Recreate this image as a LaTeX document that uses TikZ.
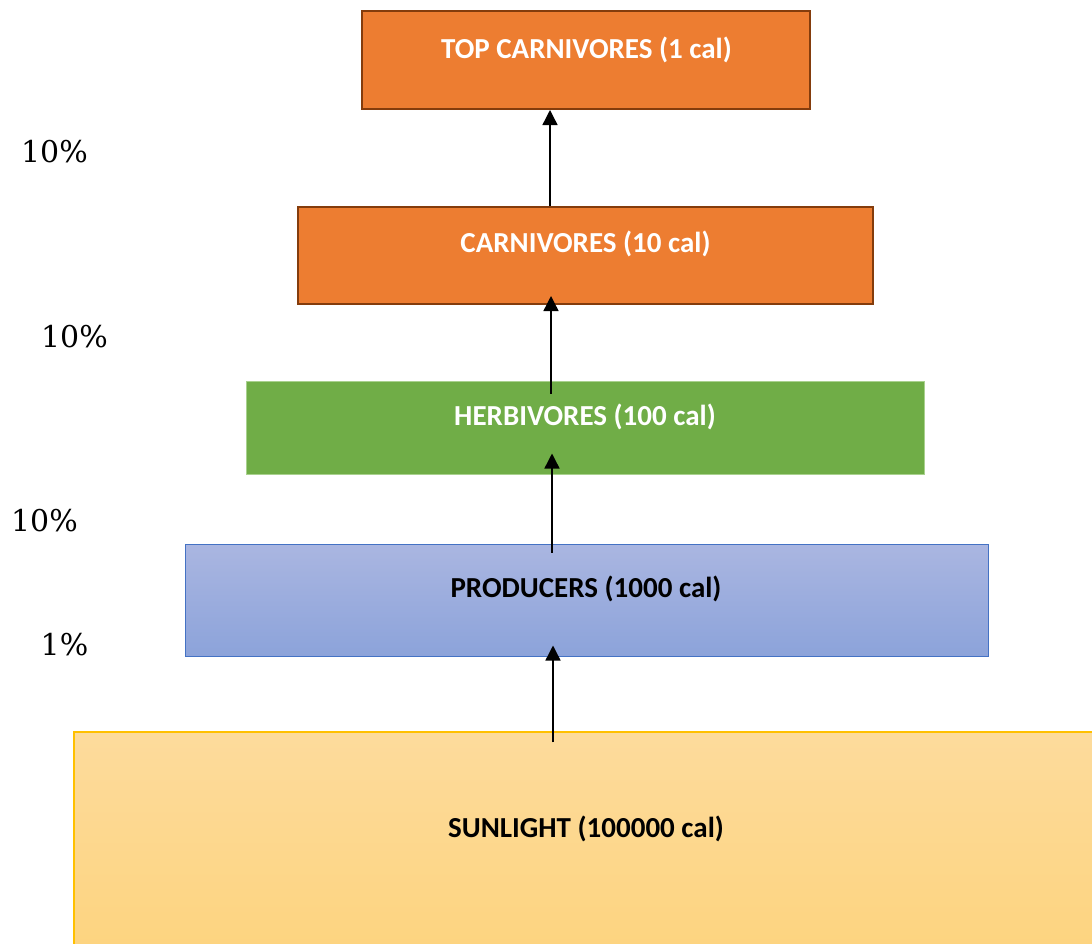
\documentclass[tikz,border=0pt]{standalone}
\usepackage{fontspec}
\setmainfont{Carlito}
\newfontfamily\pctfont{DejaVu Serif}
\usetikzlibrary{arrows.meta,calc}
\definecolor{orangefill}{HTML}{ED7D31}
\definecolor{orangeedge}{HTML}{843C0C}
\definecolor{greenfill}{HTML}{70AD47}
\definecolor{greenedge}{HTML}{A9D18E}
\definecolor{bluetop}{HTML}{AAB6E1}
\definecolor{bluebot}{HTML}{8CA3DA}
\definecolor{blueedge}{HTML}{4472C4}
\definecolor{suntop}{HTML}{FDDB9C}
\definecolor{sunbot}{HTML}{FDD47F}
\definecolor{sunedge}{HTML}{FFC000}
\tikzset{
  level/.style={rectangle, inner sep=0pt, font=\fontsize{29}{34}\selectfont\bfseries},
  orangelevel/.style={level, fill=orangefill, draw=orangeedge, line width=2pt, text=white},
  greenlevel/.style={level, fill=greenfill, draw=greenedge, line width=1pt, text=white},
  bluelevel/.style={level, top color=bluetop, bottom color=bluebot, draw=blueedge, line width=1pt, text=black},
  sunlevel/.style={level, top color=suntop, bottom color=sunbot, draw=sunedge, line width=1.5pt, text=black},
  pct/.style={font=\pctfont\fontsize{30}{34}\selectfont, inner sep=0pt},
  flow/.style={line width=1.4pt, -{Triangle[width=15pt,length=15pt]}}
}
\begin{document}
\begin{tikzpicture}[x=1pt,y=-1pt]
  \useasboundingbox (0,0) rectangle (1092,943);
  \clip (0,0) rectangle (1092,943);

  % trophic levels, top to bottom
  \node[orangelevel, minimum width=448pt, minimum height=98pt] (top) at (586,60) {};
  \node[level, text=white] (toptext) at (586.5,50) {TOP CARNIVORES (1 cal)};
  \node[orangelevel, minimum width=575pt, minimum height=97pt] (carn) at (585.5,255.5) {};
  \node[level, text=white] (carntext) at (585.5,244) {CARNIVORES (10 cal)};
  \node[greenlevel, minimum width=678pt, minimum height=93pt] (herb) at (585,427.5) {};
  \node[level, text=white] (herbtext) at (585,417) {HERBIVORES (100 cal)};
  \node[bluelevel, minimum width=803pt, minimum height=112pt] (prod) at (586.5,600) {};
  \node[level] (prodtext) at (586,589) {PRODUCERS (1000 cal)};
  \node[sunlevel, minimum width=1030pt, minimum height=222pt] (sun) at (589,843) {};
  \node[level] (suntext) at (586,829) {SUNLIGHT (100000 cal)};

  % energy flow axis
  \coordinate (axis) at (551,0);
  \draw[flow] ($(sun.north -| axis)+(2,11)$) -- ($(prod.south -| axis)+(2,-11)$);
  \draw[flow] ($(prod.north -| axis)+(1,9)$) -- ($(herb.south -| axis)+(1,-21)$);
  \draw[flow] ($(herb.north -| axis)+(0,13)$) -- ($(carn.south -| axis)+(0,-9)$);
  \draw[flow] ($(carn.north -| axis)+(-1,0)$) -- ($(top.south -| axis)+(-1,0)$);

  % transfer efficiencies
  \node[pct] (p4) at (54.5,152) {10\%};
  \node[pct] (p3) at (74.5,337) {10\%};
  \node[pct] (p2) at (44.5,521) {10\%};
  \node[pct] (p1) at (64.5,645) {1\%};
\end{tikzpicture}
\end{document}
